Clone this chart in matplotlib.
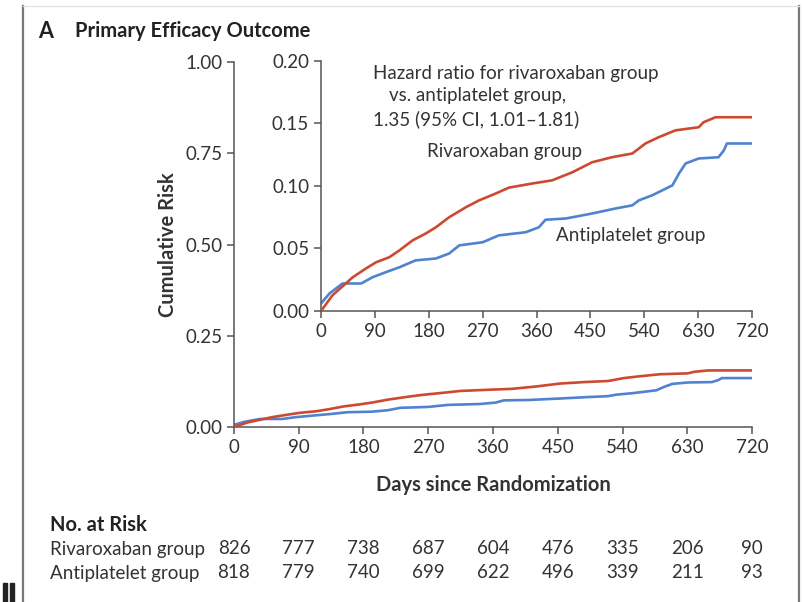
import matplotlib
matplotlib.use("Agg")
import matplotlib.pyplot as plt
from matplotlib.patches import Rectangle
from matplotlib.lines import Line2D
from matplotlib.transforms import blended_transform_factory

plt.rcParams["font.family"] = ["Lato", "DejaVu Sans"]

# Kaplan-Meier style cumulative risk
riva_days = [0, 19, 53, 75, 92, 114, 131, 153, 175, 192, 214, 242, 264, 292, 314,
             353, 386, 420, 453, 486, 520, 542, 564, 592, 631, 639, 659, 720]
riva_risk = [0.0, 0.0125, 0.027, 0.034, 0.039, 0.043, 0.0485, 0.0565, 0.062, 0.067,
             0.075, 0.083, 0.0885, 0.094, 0.0987, 0.102, 0.1045, 0.111, 0.119, 0.123,
             0.126, 0.134, 0.139, 0.1445, 0.147, 0.151, 0.155, 0.155]
anti_days = [0, 14, 36, 67, 86, 108, 131, 158, 192, 214, 231, 270, 297, 342, 364,
             375, 409, 453, 492, 520, 531, 553, 570, 587, 598, 609, 631, 664, 673,
             678, 720]
anti_risk = [0.006, 0.014, 0.022, 0.022, 0.027, 0.031, 0.035, 0.0405, 0.042, 0.046,
             0.0525, 0.055, 0.0605, 0.063, 0.067, 0.073, 0.074, 0.078, 0.082, 0.0845,
             0.0885, 0.0925, 0.0965, 0.1005, 0.11, 0.118, 0.122, 0.123, 0.1285, 0.134,
             0.134]

ticks_days = [0, 90, 180, 270, 360, 450, 540, 630, 720]
risk_riva = [826, 777, 738, 687, 604, 476, 335, 206, 90]
risk_anti = [818, 779, 740, 699, 622, 496, 339, 211, 93]

RED = "#cc4a30"
BLUE = "#4f82cf"
INK = "#333333"
SPINE = "#555555"
FS = 13.5


def style(ax):
    for s in ("top", "right"):
        ax.spines[s].set_visible(False)
    for s in ("left", "bottom"):
        ax.spines[s].set_color(SPINE)
        ax.spines[s].set_linewidth(1.1)
    ax.tick_params(direction="out", length=5, width=1.1, color=SPINE,
                   labelcolor=INK, labelsize=FS)
    ax.set_xlim(0, 720)
    ax.set_xticks(ticks_days)


fig = plt.figure(figsize=(8.03, 6.02), dpi=100)

ax = fig.add_axes([0.2914, 0.2907, 0.6451, 0.6063])
style(ax)
ax.set_ylim(0, 1.0)
ax.set_yticks([0, 0.25, 0.5, 0.75, 1.0])
ax.set_yticklabels(["0.00", "0.25", "0.50", "0.75", "1.00"])
ax.plot(riva_days, riva_risk, color=RED, lw=1.9, zorder=3)
ax.plot(anti_days, anti_risk, color=BLUE, lw=1.9, zorder=2)
ax.set_xlabel("Days since Randomization", fontsize=14.5, fontweight="bold",
              color=INK, labelpad=14)
ax.set_ylabel("Cumulative Risk", fontsize=14.5, fontweight="bold", color=INK,
              labelpad=5)

ins = fig.add_axes([0.3998, 0.4834, 0.5367, 0.4153])
style(ins)
ins.set_ylim(0, 0.20)
ins.set_yticks([0, 0.05, 0.10, 0.15, 0.20])
ins.set_yticklabels(["0.00", "0.05", "0.10", "0.15", "0.20"])
ins.plot(riva_days, riva_risk, color=RED, lw=1.9, zorder=3)
ins.plot(anti_days, anti_risk, color=BLUE, lw=1.9, zorder=2)

# annotations
fig.text(373 / 803, 1 - 73 / 602, "Hazard ratio for rivaroxaban group",
         fontsize=FS, color=INK, va="center")
fig.text(389 / 803, 1 - 96 / 602, "vs. antiplatelet group,",
         fontsize=FS, color=INK, va="center")
fig.text(373 / 803, 1 - 119 / 602, "1.35 (95% CI, 1.01\u20131.81)",
         fontsize=FS, color=INK, va="center")
fig.text(427 / 803, 1 - 152 / 602, "Rivaroxaban group", fontsize=FS,
         color=INK, va="center")
fig.text(556 / 803, 1 - 236 / 602, "Antiplatelet group", fontsize=FS,
         color=INK, va="center")

fig.text(38 / 803, 1 - 31 / 602, "A", fontsize=15.5, fontweight="bold",
         color="#222222", va="center")
fig.text(75 / 803, 1 - 31 / 602, "Primary Efficacy Outcome", fontsize=14.5,
         fontweight="bold", color="#222222", va="center")

# number at risk table
fig.text(50 / 803, 1 - 525 / 602, "No. at Risk", fontsize=14.5,
         fontweight="bold", color="#222222", va="center")
fig.text(50 / 803, 1 - 549 / 602, "Rivaroxaban group", fontsize=FS,
         color=INK, va="center")
fig.text(50 / 803, 1 - 573 / 602, "Antiplatelet group", fontsize=FS,
         color=INK, va="center")
tr = blended_transform_factory(ax.transData, fig.transFigure)
for d, r, a in zip(ticks_days, risk_riva, risk_anti):
    ax.text(d, 1 - 549 / 602, str(r), transform=tr, ha="center", va="center",
            fontsize=FS, color=INK, clip_on=False)
    ax.text(d, 1 - 573 / 602, str(a), transform=tr, ha="center", va="center",
            fontsize=FS, color=INK, clip_on=False)

# page frame
W, H = 803, 602
fig.add_artist(Line2D([23 / W, 23 / W], [0, 1 - 6 / H], color="#777777",
                      lw=1.6, transform=fig.transFigure))
fig.add_artist(Line2D([799 / W, 799 / W], [0, 1 - 6 / H], color="#777777",
                      lw=1.6, transform=fig.transFigure))
fig.add_artist(Line2D([23 / W, 799 / W], [1 - 6 / H, 1 - 6 / H],
                      color="#e4e4e4", lw=1.0, transform=fig.transFigure))
fig.add_artist(Rectangle((3 / W, 0), 4 / W, 19 / H, color="#222222",
                         transform=fig.transFigure))
fig.add_artist(Rectangle((10 / W, 0), 4 / W, 19 / H, color="#222222",
                         transform=fig.transFigure))

fig.savefig("out.png", dpi=100)
